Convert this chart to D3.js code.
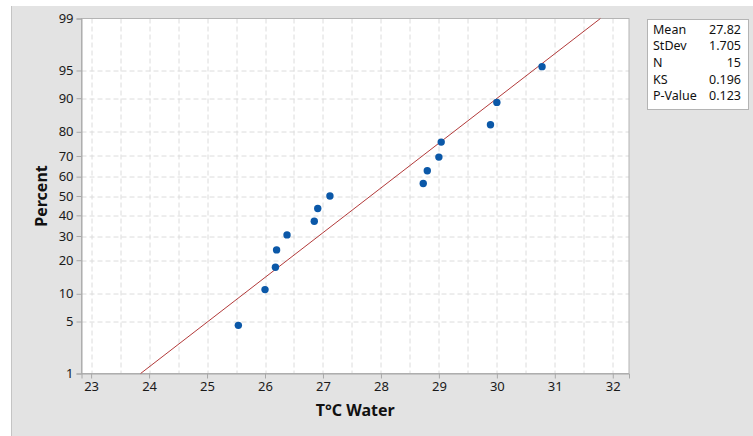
<!DOCTYPE html>
<html>
<head>
<meta charset="utf-8">
<script src="https://cdn.jsdelivr.net/npm/d3@7"></script>
<style>
  body { margin: 0; background: #fff; }
  svg { display: block; font-family: "Noto Sans", "Open Sans", sans-serif; }
</style>
</head>
<body>
<script>
// data
const waterTemp = [25.54, 26.00, 26.18, 26.20, 26.38, 26.85, 26.91, 27.12,
                   28.73, 28.80, 29.00, 29.04, 29.89, 30.00, 30.78];
const percent = [4.5, 11.0, 17.5, 24.0, 30.5, 37.0, 43.5, 50.0,
                 56.5, 63.0, 69.5, 76.0, 82.5, 89.0, 95.5];
const xTicks = [23, 24, 25, 26, 27, 28, 29, 30, 31, 32];
const pTicks = [1, 5, 10, 20, 30, 40, 50, 60, 70, 80, 90, 95, 99];
const statLabels = ["Mean", "StDev", "N", "KS", "P-Value"];
const statValues = ["27.82", "1.705", "15", "0.196", "0.123"];
const fitMean = 27.82, fitSd = 1.705;

const W = 753, H = 436;
const margin = {top: 18.5, right: 124, bottom: 62.5, left: 81.5},
    width = W - margin.left - margin.right,
    height = H - margin.top - margin.bottom;

// inverse normal cdf (Acklam)
function probit(p) {
  const a = [-39.6968302866538, 220.946098424521, -275.928510446969, 138.357751867269, -30.6647980661472, 2.50662827745924];
  const b = [-54.4760987982241, 161.585836858041, -155.698979859887, 66.8013118877197, -13.2806815528857];
  const c = [-0.00778489400243029, -0.322396458041136, -2.40075827716184, -2.54973253934373, 4.37466414146497, 2.93816398269878];
  const d = [0.00778469570904146, 0.32246712907004, 2.445134137143, 3.75440866190742];
  const pl = 0.02425;
  let q, r;
  if (p < pl) {
    q = Math.sqrt(-2 * Math.log(p));
    return (((((c[0]*q+c[1])*q+c[2])*q+c[3])*q+c[4])*q+c[5]) / ((((d[0]*q+d[1])*q+d[2])*q+d[3])*q+1);
  } else if (p <= 1 - pl) {
    q = p - 0.5; r = q * q;
    return (((((a[0]*r+a[1])*r+a[2])*r+a[3])*r+a[4])*r+a[5])*q / (((((b[0]*r+b[1])*r+b[2])*r+b[3])*r+b[4])*r+1);
  }
  q = Math.sqrt(-2 * Math.log(1 - p));
  return -(((((c[0]*q+c[1])*q+c[2])*q+c[3])*q+c[4])*q+c[5]) / ((((d[0]*q+d[1])*q+d[2])*q+d[3])*q+1);
}

const zMax = probit(0.99);
const x = d3.scaleLinear().domain([22.834, 32.28]).range([0, width]);
const z = d3.scaleLinear().domain([-zMax, zMax]).range([height, 0]);
const y = p => z(probit(p / 100));

const svg = d3.select("body").append("svg")
    .attr("width", W)
    .attr("height", H);

// gray panel
svg.append("rect").attr("x", 11).attr("y", 6).attr("width", W - 11).attr("height", H - 6)
    .attr("fill", "#e3e3e3");
svg.append("line").attr("x1", 11.5).attr("x2", 11.5).attr("y1", 6).attr("y2", H)
    .attr("stroke", "#c4c4c4");

const g = svg.append("g")
    .attr("transform", `translate(${margin.left},${margin.top})`);

g.append("rect").attr("width", width).attr("height", height).attr("fill", "#fff");

// grid
const halfTicks = d3.range(23, 32.5, 0.5);
g.selectAll(".vgrid").data(halfTicks).enter().append("line")
    .attr("x1", d => Math.round(x(d)) + 0.5).attr("x2", d => Math.round(x(d)) + 0.5)
    .attr("y1", 0).attr("y2", height)
    .attr("stroke", "#dcdcdc").attr("stroke-dasharray", "5,3");
g.selectAll(".hgrid").data(pTicks.slice(1, -1)).enter().append("line")
    .attr("y1", d => Math.round(y(d)) + 0.5).attr("y2", d => Math.round(y(d)) + 0.5)
    .attr("x1", 0).attr("x2", width)
    .attr("stroke", "#dcdcdc").attr("stroke-dasharray", "5,3");

// frame
g.append("rect").attr("width", width).attr("height", height)
    .attr("fill", "none").attr("stroke", "#b4b4b4");

// axes
const xAxis = g.append("g")
    .attr("transform", `translate(0,${height})`)
    .call(d3.axisBottom(x).tickValues(xTicks).tickSize(5).tickPadding(3));
const yAxis = g.append("g")
    .call(d3.axisLeft(z).tickValues(pTicks.map(p => probit(p / 100)))
      .tickFormat((d, i) => pTicks[i]).tickSize(5).tickPadding(3));
[xAxis, yAxis].forEach(a => {
  a.select(".domain").attr("stroke", "#a8a8a8");
  a.selectAll(".tick line").attr("stroke", "#a8a8a8");
  a.selectAll(".tick text").attr("fill", "#1a1a1a").style("font-size", "13px")
    .style("font-family", "'Noto Sans', sans-serif");
});

// fitted line
g.append("line")
    .attr("x1", x(fitMean - zMax * fitSd)).attr("y1", z(-zMax))
    .attr("x2", x(fitMean + zMax * fitSd)).attr("y2", z(zMax))
    .attr("stroke", "#b23a3a").attr("stroke-width", 1);

// points
g.selectAll(".pt").data(waterTemp).enter().append("circle")
    .attr("cx", d => x(d))
    .attr("cy", (d, i) => y(percent[i]))
    .attr("r", 3.7)
    .attr("fill", "#0b58a8");

// axis titles
svg.append("text")
    .attr("x", margin.left + width / 2).attr("y", 416)
    .attr("text-anchor", "middle")
    .style("font-size", "16px").style("font-weight", "bold").attr("fill", "#111")
    .text("T°C Water");
svg.append("text")
    .attr("transform", `translate(47,${margin.top + height / 2}) rotate(-90)`)
    .attr("text-anchor", "middle")
    .style("font-size", "16px").style("font-weight", "bold").attr("fill", "#111")
    .text("Percent");

// stats box
const box = svg.append("g").attr("transform", "translate(647,19)");
box.append("rect").attr("x", 0.5).attr("y", 0.5).attr("width", 101).attr("height", 90)
    .attr("fill", "#fff").attr("stroke", "#b4b4b4");
statLabels.forEach((s, i) => {
  box.append("text").attr("x", 6).attr("y", 14.5 + i * 16.7)
      .style("font-size", "12.5px").attr("fill", "#111").text(s);
  box.append("text").attr("x", 94).attr("y", 14.5 + i * 16.7).attr("text-anchor", "end")
      .style("font-size", "12.5px").attr("fill", "#111").text(statValues[i]);
});
</script>
</body>
</html>
